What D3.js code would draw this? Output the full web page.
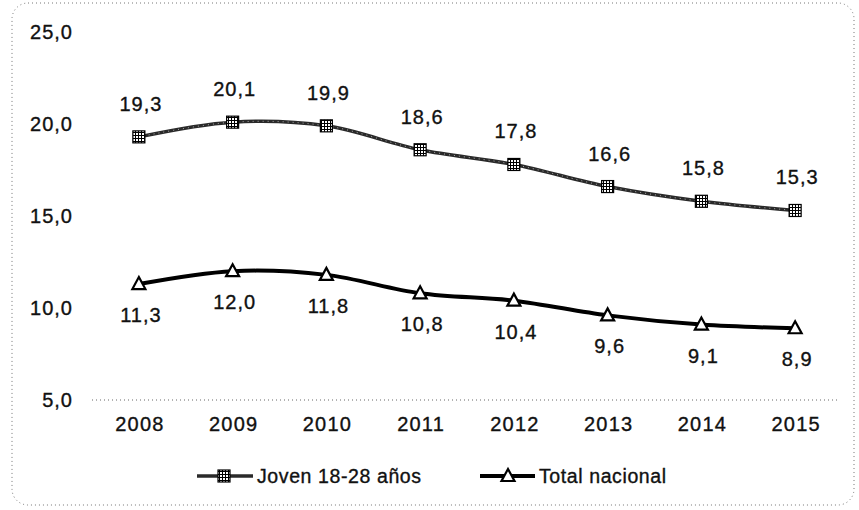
<!DOCTYPE html>
<html>
<head>
<meta charset="utf-8">
<script src="https://cdn.jsdelivr.net/npm/d3@7"></script>
<style>
  html, body { margin: 0; padding: 0; background: #fff; }
  svg { display: block; }
  text { font-family: "Liberation Sans", Arial, sans-serif; fill: #111; stroke: #111; stroke-width: 0.35px; }
</style>
</head>
<body>
<svg id="chart" width="859" height="510"></svg>
<script>
// ---- data ----
const years = ["2008", "2009", "2010", "2011", "2012", "2013", "2014", "2015"];
const joven = [19.3, 20.1, 19.9, 18.6, 17.8, 16.6, 15.8, 15.3];
const total = [11.3, 12.0, 11.8, 10.8, 10.4, 9.6, 9.1, 8.9];
const seriesNames = ["Joven 18-28 años", "Total nacional"];
const yTicks = [5, 10, 15, 20, 25];

const fmt = v => d3.format(".1f")(v).replace(".", ",");

const svg = d3.select("#chart");

// hatch pattern for square markers
const defs = svg.append("defs");
const pat = defs.append("pattern")
  .attr("id", "hatch").attr("patternUnits", "userSpaceOnUse")
  .attr("width", 3).attr("height", 3);
pat.append("rect").attr("width", 3).attr("height", 3).attr("fill", "#fff");
pat.append("path").attr("d", "M0,0.5H3M0.5,0V3").attr("stroke", "#000").attr("stroke-width", 1);

// outer dotted rounded frame
svg.append("rect")
  .attr("x", 12).attr("y", 3).attr("width", 842).attr("height", 502)
  .attr("rx", 16).attr("ry", 16)
  .attr("fill", "none").attr("stroke", "#777").attr("stroke-width", 1)
  .attr("stroke-dasharray", "1,3");

const x = d3.scaleBand().domain(years).range([92, 842]);
const y = d3.scaleLinear().domain([5, 25]).range([400, 32]);
const cx = d => x(d) + x.bandwidth() / 2;

const FS = "20px";

// y axis labels
const yAxis = d3.axisLeft(y).tickValues(yTicks).tickFormat(fmt).tickSize(0).tickPadding(0);
const gy = svg.append("g").attr("transform", "translate(73,0)").call(yAxis);
gy.select(".domain").remove();
gy.selectAll("text")
  .style("font-family", "Liberation Sans, Arial, sans-serif")
  .style("font-size", FS).style("letter-spacing", "1px").attr("fill", "#111");

// baseline (dotted)
svg.append("line")
  .attr("x1", 92).attr("x2", 840).attr("y1", y(5)).attr("y2", y(5))
  .attr("stroke", "#666").attr("stroke-width", 1).attr("stroke-dasharray", "1,3");

// x axis labels
const xAxis = d3.axisBottom(x).tickSize(0).tickPadding(0);
const gx = svg.append("g").attr("transform", "translate(1,417)").call(xAxis);
gx.select(".domain").remove();
gx.selectAll("text")
  .style("font-family", "Liberation Sans, Arial, sans-serif")
  .style("font-size", FS).style("letter-spacing", "1.2px").attr("fill", "#111");

const line = d3.line()
  .x((d, i) => cx(years[i]))
  .y(d => y(d))
  .curve(d3.curveCatmullRom.alpha(0.5));

// Joven series
svg.append("path").datum(joven)
  .attr("d", line).attr("fill", "none")
  .attr("stroke", "#2a2a2a").attr("stroke-width", 3.5);
svg.append("path").datum(joven)
  .attr("d", line).attr("fill", "none")
  .attr("stroke", "#fff").attr("stroke-width", 1).attr("stroke-dasharray", "1,4").attr("opacity", 0.6);

// Total series
svg.append("path").datum(total)
  .attr("d", line).attr("fill", "none")
  .attr("stroke", "#000").attr("stroke-width", 4);

function square(g, px, py) {
  g.append("rect").attr("x", px - 6).attr("y", py - 6).attr("width", 12).attr("height", 12)
    .attr("fill", "url(#hatch)").attr("stroke", "#000").attr("stroke-width", 1.2);
}
function triangle(g, px, py) {
  g.append("path")
    .attr("d", `M${px},${py - 7}L${px + 6.5},${py + 5}L${px - 6.5},${py + 5}Z`)
    .attr("fill", "#fff").attr("stroke", "#000").attr("stroke-width", 2.2);
}

const mg = svg.append("g");
joven.forEach((v, i) => square(mg, cx(years[i]), y(v)));
total.forEach((v, i) => triangle(mg, cx(years[i]), y(v)));

// value labels
svg.append("g").selectAll("text").data(joven).join("text")
  .attr("x", (d, i) => cx(years[i]) + 2)
  .attr("y", d => y(d) - 33)
  .attr("text-anchor", "middle").attr("dominant-baseline", "central")
  .style("font-size", FS).style("letter-spacing", "1px")
  .text(fmt);

svg.append("g").selectAll("text").data(total).join("text")
  .attr("x", (d, i) => cx(years[i]) + 2)
  .attr("y", d => y(d) + 31)
  .attr("text-anchor", "middle").attr("dominant-baseline", "central")
  .style("font-size", FS).style("letter-spacing", "1px")
  .text(fmt);

// legend
const leg = svg.append("g");
const ly = 476;
// Joven
leg.append("line").attr("x1", 197).attr("x2", 253).attr("y1", ly).attr("y2", ly)
  .attr("stroke", "#2a2a2a").attr("stroke-width", 3.5);
square(leg, 224, ly);
leg.append("text").attr("x", 257).attr("y", ly).attr("dominant-baseline", "central")
  .style("font-size", "19.5px").style("letter-spacing", "0.6px").text(seriesNames[0]);
// Total
leg.append("line").attr("x1", 480).attr("x2", 535).attr("y1", ly).attr("y2", ly)
  .attr("stroke", "#000").attr("stroke-width", 4);
triangle(leg, 508, ly);
leg.append("text").attr("x", 539).attr("y", ly).attr("dominant-baseline", "central")
  .style("font-size", "19.5px").style("letter-spacing", "0.6px").text(seriesNames[1]);
</script>
</body>
</html>
